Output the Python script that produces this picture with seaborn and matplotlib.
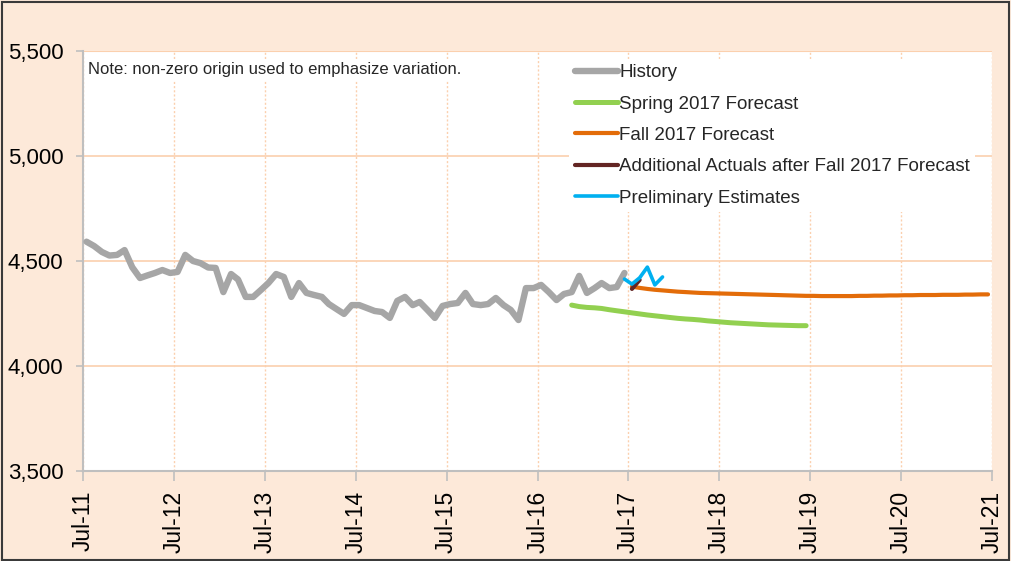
import numpy as np
import pandas as pd
import seaborn as sns
import matplotlib
matplotlib.use("Agg")
import matplotlib.pyplot as plt
import matplotlib.dates as mdates
from matplotlib.patches import Rectangle
from matplotlib.ticker import FuncFormatter

# ---------------- data (monthly) ----------------
history = [4592, 4571, 4543, 4526, 4529, 4552, 4470, 4419, 4431, 4443, 4457, 4443,
           4448, 4529, 4500, 4490, 4469, 4467, 4352, 4438, 4412, 4329, 4329, 4362,
           4395, 4438, 4424, 4329, 4395, 4348, 4338, 4329, 4295, 4271, 4248, 4290,
           4290, 4276, 4262, 4257, 4229, 4310, 4329, 4290, 4305, 4267, 4229, 4286,
           4295, 4300, 4348, 4295, 4290, 4295, 4324, 4290, 4267, 4219, 4371, 4371,
           4386, 4352, 4314, 4343, 4352, 4429, 4348, 4371, 4395, 4371, 4376, 4443]
history_start = "2011-07-01"

spring = [4290, 4283, 4279, 4277, 4274, 4268, 4263, 4258, 4253, 4248, 4243, 4239,
          4235, 4231, 4227, 4224, 4222, 4219, 4215, 4212, 4209, 4206, 4204, 4202,
          4200, 4198, 4196, 4195, 4194, 4193, 4192, 4192]
spring_start = "2016-11-01"

fall = [4378, 4372, 4367, 4363, 4360, 4357, 4354, 4352, 4350, 4348, 4347, 4346,
        4345, 4344, 4343, 4342, 4341, 4340, 4339, 4338, 4337, 4336, 4335, 4334,
        4334, 4333, 4333, 4333, 4333, 4333, 4334, 4334, 4335, 4335, 4336, 4336,
        4337, 4337, 4338, 4338, 4338, 4339, 4339, 4339, 4340, 4340, 4341, 4341]
fall_start = "2017-07-01"

actuals = [4367, 4410]
actuals_start = "2017-07-01"

prelim = [4414, 4390, 4420, 4471, 4386, 4424]
prelim_start = "2017-06-01"

labels = ["History", "Spring 2017 Forecast", "Fall 2017 Forecast",
          "Additional Actuals after Fall 2017 Forecast", "Preliminary Estimates"]
colors = ["#A6A6A6", "#92D050", "#E36C09", "#632523", "#00B0F0"]
widths = [4.6, 3.6, 3.0, 3.0, 2.6]


def monthly(vals, start):
    dates = pd.date_range(start=pd.Timestamp(start), periods=len(vals), freq="MS") \
        + pd.Timedelta(days=14)
    return pd.DataFrame({"date": dates, "value": vals})


series = [monthly(history, history_start), monthly(spring, spring_start),
          monthly(fall, fall_start), monthly(actuals, actuals_start),
          monthly(prelim, prelim_start)]

# ---------------- plotting ----------------
sns.set_theme(style="white")
plt.rcParams["font.family"] = ["Liberation Sans", "DejaVu Sans"]

peach = "#FDE9D9"
grid_c = "#FBD0AE"

fig = plt.figure(figsize=(10.11, 5.61), dpi=100, facecolor=peach)
ax = fig.add_axes([83 / 1011, 90 / 561, 909 / 1011, 420 / 561])
ax.set_facecolor("white")

draw_order = [0, 1, 2, 4, 3]
for i in draw_order:
    sns.lineplot(data=series[i], x="date", y="value", ax=ax, color=colors[i],
                 linewidth=widths[i], label=labels[i], solid_capstyle="round",
                 zorder=3 + i)

ax.set_xlim(pd.Timestamp("2011-07-01"), pd.Timestamp("2021-07-01"))
ax.set_ylim(3500, 5500)
ax.set_yticks([3500, 4000, 4500, 5000, 5500])
ax.yaxis.set_major_formatter(FuncFormatter(lambda v, p: f"{int(v):,}"))
ax.xaxis.set_major_locator(mdates.MonthLocator(bymonth=7, bymonthday=1))
ax.xaxis.set_major_formatter(mdates.DateFormatter("%b-%y"))
ax.set_xlabel("")
ax.set_ylabel("")

ax.grid(axis="y", color=grid_c, linewidth=1.2, linestyle="-", zorder=0)
ax.grid(axis="x", color=grid_c, linewidth=1.0, linestyle=(0, (1.5, 1.5)), zorder=0)
ax.axhline(5500, color=grid_c, linewidth=1.5, zorder=1)

for s in ["top", "right"]:
    ax.spines[s].set_visible(False)
for s in ["left", "bottom"]:
    ax.spines[s].set_color("#BFBFBF")
    ax.spines[s].set_linewidth(1.5)

ax.tick_params(axis="x", direction="out", length=7, width=1.2, color="#BFBFBF",
               labelsize=16.5, labelrotation=90, pad=7, bottom=True)
ax.tick_params(axis="y", direction="out", length=5, width=1.2, color="#BFBFBF",
               labelsize=16, pad=9, left=True)
for t in ax.get_yticklabels() + ax.get_xticklabels():
    t.set_color("black")

ax.text(0.006, 0.955, "Note: non-zero origin used to emphasize variation.",
        transform=ax.transAxes, fontsize=12, ha="left", va="center", zorder=10,
        bbox=dict(facecolor="white", edgecolor="none", pad=2))

handles, labs = ax.get_legend_handles_labels()
order = [labs.index(l) for l in labels]
leg = ax.legend([handles[k] for k in order], [labs[k] for k in order],
                loc="upper left", bbox_to_anchor=(0.535, 0.982), frameon=True,
                fontsize=13.5, handlelength=2.3, handletextpad=0.05,
                labelspacing=0.76, borderpad=0.3, borderaxespad=0)
leg.get_frame().set_facecolor("white")
leg.get_frame().set_edgecolor("none")
leg.get_frame().set_alpha(1)
leg.set_zorder(20)

fig.patches.append(Rectangle((0.0015, 0.002), 0.997, 0.995, transform=fig.transFigure,
                             fill=False, edgecolor="#3A3A3A", linewidth=1.5))

fig.savefig("out.png", dpi=100, facecolor=peach)
